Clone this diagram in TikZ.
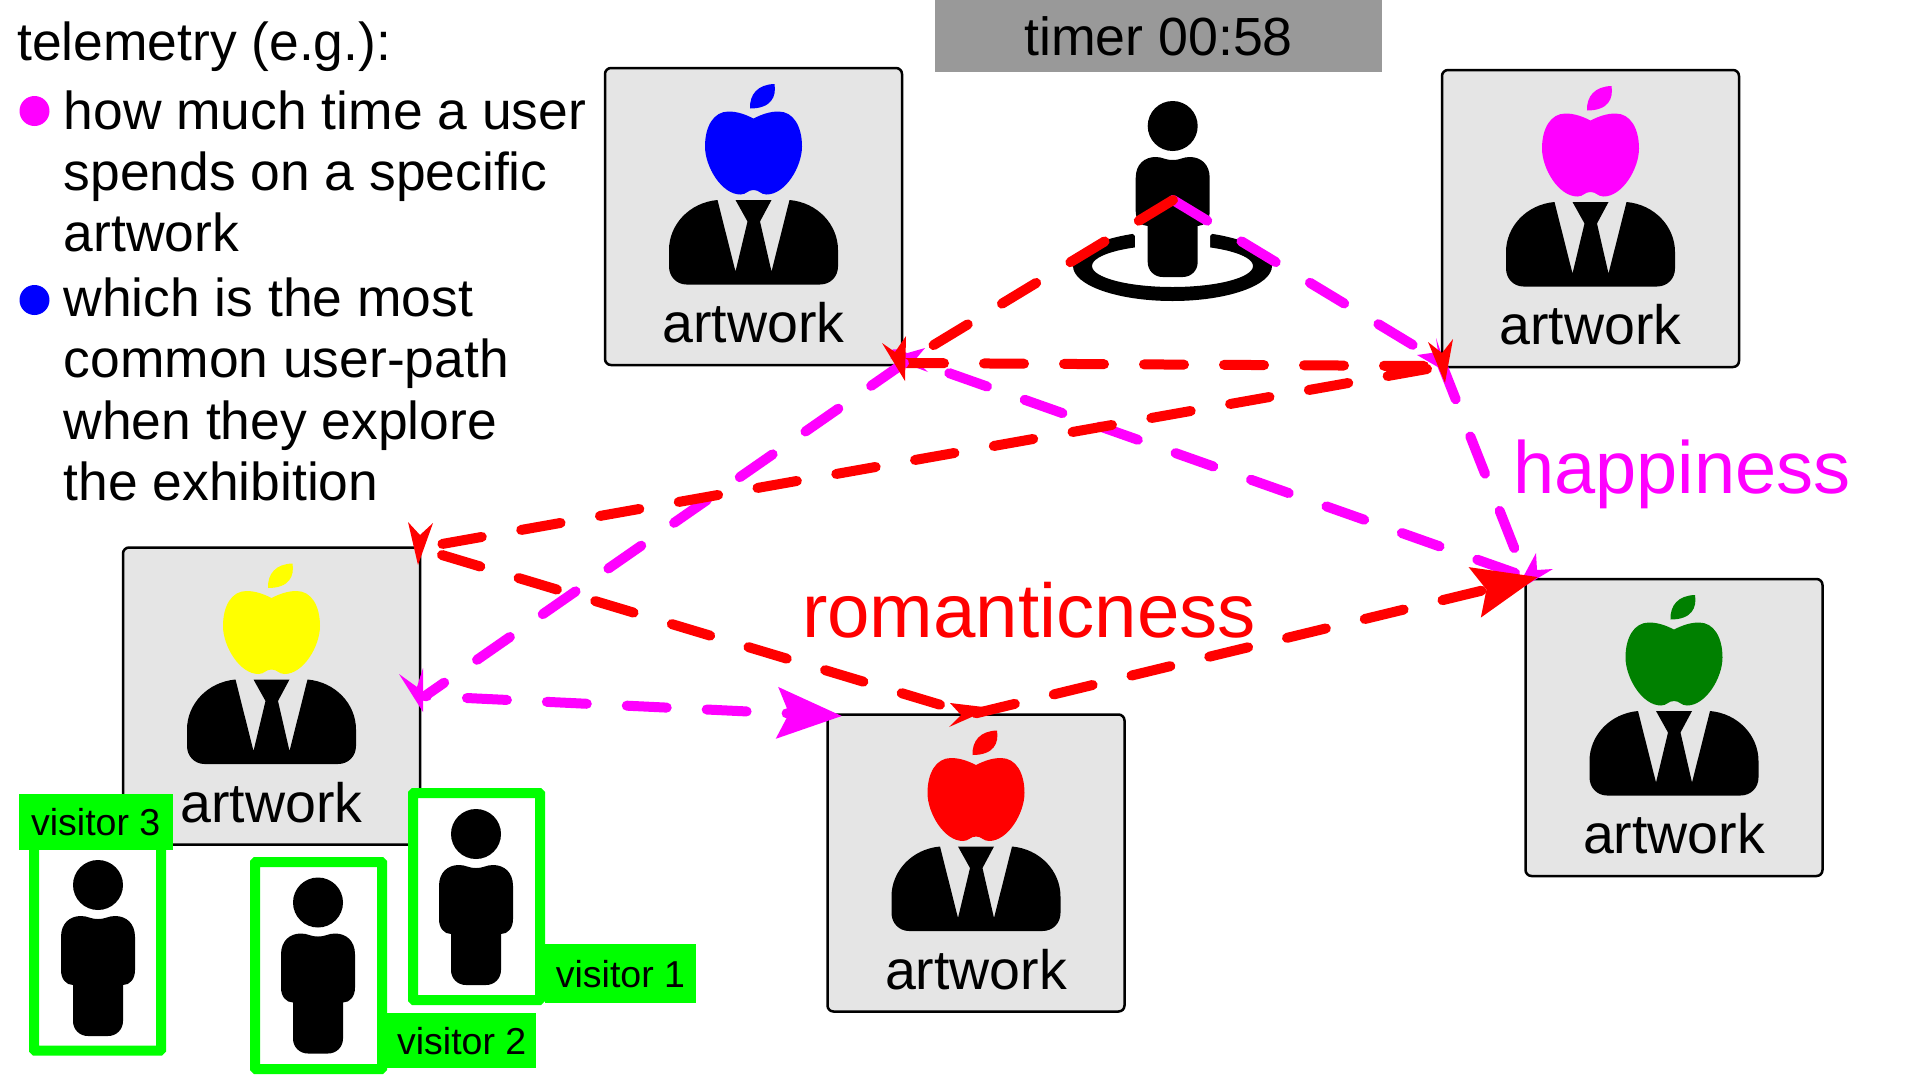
\documentclass[tikz,border=0pt]{standalone}
\usepackage{fontspec}
\setmainfont{Liberation Sans}
\usetikzlibrary{arrows.meta}
\definecolor{vgreen}{HTML}{00FF00}
\definecolor{boxgrey}{HTML}{E5E5E5}
\definecolor{timergrey}{HTML}{999999}
\definecolor{applegreen}{HTML}{008000}
\definecolor{vmag}{HTML}{FF00FF}
\definecolor{vred}{HTML}{FF0000}
\definecolor{vblue}{HTML}{0000FF}
\definecolor{vyellow}{HTML}{FFFF00}
\tikzset{
  artbox/.style={draw=black,line width=2.5pt,fill=boxgrey,rounded corners=6pt,minimum width=297pt,minimum height=297pt,inner sep=0pt},
  artlabel/.style={font=\fontsize{55.5}{60}\selectfont,anchor=base,inner sep=0pt},
  legendtext/.style={font=\fontsize{53.4}{60}\selectfont,anchor=base west,inner sep=0pt},
  vframe/.style={draw=vgreen,line width=10pt,rounded corners=1pt,minimum width=127pt,minimum height=207pt,inner sep=0pt,fill=white},
  vtag/.style={fill=vgreen,inner sep=0pt,font=\fontsize{37.5}{40}\selectfont},
  redline/.style={draw=vred,line width=10pt,line cap=round,dash pattern=on 40pt off 40pt},
  pinkline/.style={draw=vmag,line width=10pt,line cap=round,dash pattern=on 40pt off 40pt},
  bigred/.style={redline,-{Stealth[length=64pt,width=50pt,inset=11pt,line cap=butt]}},
  bigpink/.style={pinkline,-{Stealth[length=64pt,width=50pt,inset=11pt,line cap=butt]}},
}
\newcommand{\drawperson}[2]{%
  \begin{scope}[shift={(#1,#2)}]
    \fill[black] (0,0) circle[radius=25];
    \fill[black] (-37,52) .. controls (-37,38) and (-28,31) .. (-17,31)
      .. controls (-10,31) and (-8,34) .. (0,34)
      .. controls (8,34) and (10,31) .. (17,31)
      .. controls (28,31) and (37,38) .. (37,52)
      -- (37,85) .. controls (37,94) and (32,100) .. (25,100)
      -- (25,136) .. controls (25,145) and (18,151) .. (10,151)
      -- (-10,151) .. controls (-18,151) and (-25,145) .. (-25,136)
      -- (-25,100) .. controls (-32,100) and (-37,94) .. (-37,85) -- cycle;
  \end{scope}}
\newcommand{\artworkbox}[4]{%
  \node[artbox] (#1) at (#2,#3) {};
  \begin{scope}[shift={(#2,#3)}]
    \fill[#4] (0,-98) .. controls (8,-102) and (16,-105) .. (25,-105)
      .. controls (40,-105) and (48.5,-90) .. (48.5,-70)
      .. controls (48.5,-50) and (32,-22) .. (13,-22)
      .. controls (7,-22) and (6,-26.5) .. (0,-26.5)
      .. controls (-6,-26.5) and (-7,-22) .. (-13,-22)
      .. controls (-32,-22) and (-48.5,-50) .. (-48.5,-70)
      .. controls (-48.5,-90) and (-40,-105) .. (-25,-105)
      .. controls (-16,-105) and (-8,-102) .. (0,-98) -- cycle;
    \fill[#4] (-3.5,-108) .. controls (-4,-122) and (4,-132) .. (21,-132.5)
      .. controls (23,-120) and (18,-108) .. (-3.5,-108) -- cycle;
    \fill[black] (-36,-16.5) .. controls (-64,-14) and (-84.5,8) .. (-84.5,33.5)
      -- (-84.5,50) .. controls (-84.5,60) and (-77,68) .. (-67,68)
      -- (66.5,68) .. controls (77,68) and (84.5,60) .. (84.5,50)
      -- (84.5,33.5) .. controls (84.5,8) and (64,-14) .. (36,-16.5)
      -- (18,55) -- (6.5,5) -- (18,-16.5) -- (-18,-16.5) -- (-6,5) -- (-18,55) -- cycle;
    \node[artlabel] (#1-label) at (0,126) {artwork};
  \end{scope}}
\newcommand{\headshape}[5]{\fill[#1] (#2) -- (#3) -- (#4) -- (#5) -- cycle;}
\begin{document}
\begin{tikzpicture}[x=1pt,y=-1pt]
\useasboundingbox (0,0) rectangle (1920,1080);
\fill[white] (0,0) rectangle (1920,1080);
% legend
\node[legendtext] (t0) at (17,60) {telemetry (e.g.):};
\node[fill=vmag,circle,minimum size=30pt,inner sep=0pt] (bm) at (34.5,111) {};
\node[legendtext] (t1) at (63.5,129) {how much time a user};
\node[legendtext] (t2) at (63.5,190) {spends on a specific};
\node[legendtext] (t3) at (63.5,251.5) {artwork};
\node[fill=vblue,circle,minimum size=30pt,inner sep=0pt] (bb) at (34.5,300) {};
\node[legendtext] (t4) at (63.5,316) {which is the most};
\node[legendtext] (t5) at (63.5,377) {common user-path};
\node[legendtext] (t6) at (63.5,439) {when they explore};
\node[legendtext] (t7) at (63.5,500) {the exhibition};
% timer
\node[fill=timergrey,minimum width=447pt,minimum height=72pt,inner sep=0pt,font=\fontsize{53.7}{60}\selectfont] (timer) at (1158.5,36) {timer 00:58};
% artworks
\artworkbox{blueart}{753.5}{216.5}{vblue}
\artworkbox{pinkart}{1590.5}{218.5}{vmag}
\artworkbox{yellowart}{271.5}{696}{vyellow}
\artworkbox{redart}{976}{863}{vred}
\artworkbox{greenart}{1674}{727.5}{applegreen}
% centre person and ring
\fill[black,even odd rule] (1172.5,266) ellipse[x radius=99.5,y radius=35] (1172.5,266) ellipse[x radius=80.5,y radius=21];
\fill[white] (1126,226) -- (1135,236) -- (1135,252) -- (1210,252) -- (1210,236) -- (1219,226) -- cycle;
\drawperson{1172.7}{126}
\coordinate (guide) at (1173,200);
\coordinate (blueP) at (904,363);
\coordinate (blueQ) at (895,354);
\coordinate (pinkP) at (1441,362);
\coordinate (pinkIn) at (1427,366);
\coordinate (pinkOut) at (1427,369);
\coordinate (yellowIn) at (442,544);
\coordinate (yellowOut) at (442,555);
\coordinate (yellowB) at (425,696);
\coordinate (redIn) at (941,705);
\coordinate (greenP) at (1538,577);
\coordinate (greenIn) at (1519,560);
\coordinate (greenOut) at (1515,573);
\coordinate (redQ) at (842,716);
% magenta route
\draw[pinkline] (guide) -- (pinkP);
\draw[pinkline] (pinkP) -- (greenIn);
\draw[pinkline] (greenOut) -- (blueQ);
\draw[bigpink,dash phase=38pt] (yellowB) -- (redQ);
\headshape{vmag}{1448,373}{1417,355}{1438,352}{1436,338}
\headshape{vmag}{1515,592}{1553,569}{1537,570}{1536,553}
\headshape{vmag}{890,358}{925,348}{915,360}{928,372}
% red route
\draw[redline] (guide) -- (blueP);
\draw[redline] (blueP) -- (pinkIn);
\draw[redline] (yellowOut) -- (redIn);
\draw[pinkline] (blueP) -- (yellowB);
\draw[redline] (pinkOut) -- (yellowIn);
\draw[bigred] (redart.north) -- (greenP);
% arrow heads at the turning points
\headshape{vred}{1445,383}{1428,342}{1442,353}{1453,339}
\headshape{vmag}{423,712}{399,674}{417,687}{423,668}
\headshape{vred}{418,565}{408,522}{420,535}{433,523}
\headshape{vred}{905,381}{882,343}{895,352}{906,336}
\headshape{vred}{992,708}{950,703}{961,715}{949,727}
% visitors
\node[vframe] (v3) at (97.5,947) {};
\node[vtag,minimum width=154.5pt,minimum height=56.5pt] (v3tag) at (95.75,821.75) {visitor 3};
\drawperson{98}{885}
\node[vframe] (v2) at (318.5,965.5) {};
\node[vtag,minimum width=149pt,minimum height=55pt,anchor=north west] (v2tag) at (387,1013) {visitor 2};
\drawperson{318}{902.5}
\node[vframe] (v1) at (476.5,896.5) {};
\node[vtag,minimum width=150.5pt,minimum height=59pt,anchor=north west] (v1tag) at (545,944) {visitor 1};
\drawperson{476}{834}
% emotions
\node[inner sep=0pt,anchor=base,text=vred,font=\fontsize{76.3}{80}\selectfont] (rom) at (1029,637) {romanticness};
\node[inner sep=0pt,anchor=base,text=vmag,font=\fontsize{74}{80}\selectfont] (hap) at (1682,493) {happiness};
\end{tikzpicture}
\end{document}
